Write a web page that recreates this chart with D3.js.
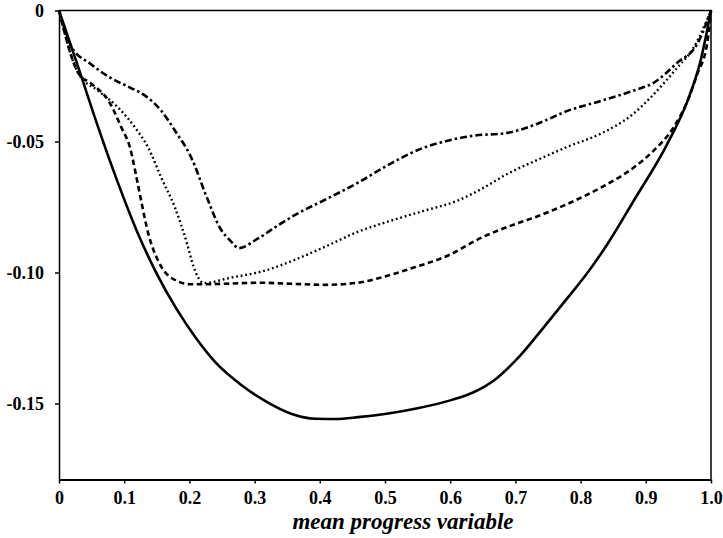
<!DOCTYPE html>
<html>
<head>
<meta charset="utf-8">
<script src="https://cdn.jsdelivr.net/npm/d3@7"></script>
<style>
  html, body { margin: 0; padding: 0; background: #fff; }
  svg { display: block; }
  .tick text { font-family: "Liberation Serif", "Times New Roman", serif; font-weight: bold; font-size: 18px; fill: #000; }
  .axis-title { font-family: "Liberation Serif", "Times New Roman", serif; font-weight: bold; font-style: italic; font-size: 23px; fill: #000; }
</style>
</head>
<body>
<svg id="chart" width="723" height="538"></svg>
<script>
// Axis ticks
const xTicks = [0, 0.1, 0.2, 0.3, 0.4, 0.5, 0.6, 0.7, 0.8, 0.9, 1.0];
const xTickLabels = ["0", "0.1", "0.2", "0.3", "0.4", "0.5", "0.6", "0.7", "0.8", "0.9", "1.0"];
const yTicks = [0, -0.05, -0.10, -0.15];
const yTickLabels = ["0", "-0.05", "-0.10", "-0.15"];
const xTitle = "mean progress variable";

// Curves: [mean progress variable, value]
const solidCurve = [
  [0, 0], [0.03, -0.022], [0.06, -0.0445], [0.09, -0.0655], [0.12, -0.0845],
  [0.15, -0.1005], [0.18, -0.1138], [0.21, -0.1250], [0.24, -0.1343],
  [0.28, -0.1430], [0.316, -0.149], [0.356, -0.1539], [0.393, -0.1558],
  [0.424, -0.1559], [0.459, -0.1552], [0.505, -0.1538], [0.55, -0.1518],
  [0.6, -0.1488], [0.635, -0.1458], [0.668, -0.1410], [0.708, -0.1315],
  [0.749, -0.1192], [0.78, -0.1097], [0.81, -0.1003], [0.841, -0.0892],
  [0.881, -0.0728], [0.933, -0.0509], [0.964, -0.0345], [0.984, -0.0192], [1, 0]
];
const dashDotCurve = [
  [0, 0], [0.0195, -0.014], [0.048, -0.0203], [0.079, -0.0257], [0.109, -0.0294],
  [0.132, -0.0325], [0.157, -0.0383], [0.178, -0.0459], [0.203, -0.0562],
  [0.227, -0.0715], [0.247, -0.083], [0.263, -0.0879], [0.276, -0.0907],
  [0.304, -0.0872], [0.339, -0.0815], [0.365, -0.0776], [0.405, -0.0726],
  [0.458, -0.0658], [0.508, -0.0585], [0.559, -0.0524], [0.596, -0.0497],
  [0.635, -0.0478], [0.688, -0.0467], [0.734, -0.0432], [0.78, -0.0383],
  [0.831, -0.0345], [0.881, -0.0306], [0.912, -0.0276], [0.948, -0.02],
  [0.979, -0.0127], [1, 0]
];
const dottedCurve = [
  [0, 0], [0.03, -0.0242], [0.06, -0.0306], [0.091, -0.0371], [0.117, -0.0448],
  [0.137, -0.0524], [0.157, -0.0639], [0.178, -0.0753], [0.197, -0.0895],
  [0.206, -0.0975], [0.222, -0.104], [0.263, -0.102], [0.314, -0.0994],
  [0.365, -0.0948], [0.405, -0.0905], [0.458, -0.0845], [0.508, -0.0803],
  [0.559, -0.0765], [0.611, -0.0726], [0.651, -0.0677], [0.688, -0.0623],
  [0.734, -0.057], [0.78, -0.052], [0.831, -0.047], [0.881, -0.0394],
  [0.907, -0.0333], [0.948, -0.0219], [0.973, -0.0143], [1, 0]
];
const dashedCurve = [
  [0, 0], [0.03, -0.024], [0.05, -0.028], [0.076, -0.0345], [0.096, -0.0448],
  [0.109, -0.0524], [0.119, -0.0639], [0.126, -0.0726], [0.137, -0.0852],
  [0.152, -0.0955], [0.172, -0.102], [0.203, -0.1045], [0.255, -0.1043],
  [0.306, -0.1039], [0.356, -0.1043], [0.409, -0.1047], [0.458, -0.1039],
  [0.493, -0.102], [0.543, -0.0982], [0.596, -0.0936], [0.647, -0.0868],
  [0.70, -0.0815], [0.728, -0.0791], [0.78, -0.0738], [0.831, -0.0676],
  [0.881, -0.06], [0.912, -0.0535], [0.942, -0.0448], [0.964, -0.0345],
  [0.979, -0.0242], [0.994, -0.0127], [1, 0]
];

const svg = d3.select("#chart");
const W = 723, H = 538;
const margin = { top: 10.5, right: 12, bottom: 58.5, left: 59 };
const innerW = W - margin.left - margin.right;
const innerH = H - margin.top - margin.bottom;

const x = d3.scaleLinear().domain([0, 1]).range([0, innerW]);
const y = d3.scaleLinear().domain([-0.179, 0]).range([innerH, 0]);

const g = svg.append("g").attr("transform", `translate(${margin.left},${margin.top})`);

// Frame (top and right edges)
g.append("path")
  .attr("d", `M0,0H${innerW}V${innerH}`)
  .attr("fill", "none").attr("stroke", "#000").attr("stroke-width", 1.5);

// Bottom axis
const xAxis = g.append("g")
  .attr("transform", `translate(0,${innerH})`)
  .call(d3.axisBottom(x).tickValues(xTicks).tickFormat((d, i) => xTickLabels[i]).tickSize(4).tickSizeOuter(0));
xAxis.select(".domain").attr("stroke-width", 2);
xAxis.selectAll(".tick line").attr("stroke-width", 1.5);
xAxis.selectAll(".tick text").attr("y", 0).attr("dy", 0).attr("transform", `translate(0,${503.5 - margin.top - innerH})`);

// Left axis
const yAxis = g.append("g")
  .call(d3.axisLeft(y).tickValues(yTicks).tickFormat((d, i) => yTickLabels[i]).tickSize(4).tickSizeOuter(0));
yAxis.select(".domain").attr("stroke-width", 1.5);
yAxis.selectAll(".tick line").attr("stroke-width", 1.5);
yAxis.selectAll(".tick text").attr("x", -15).attr("dy", "0.35em");

// Axis title
svg.append("text")
  .attr("class", "axis-title")
  .attr("x", 403).attr("y", 529)
  .attr("text-anchor", "middle")
  .text(xTitle);

// Curves
const line = d3.line()
  .x(d => x(d[0]))
  .y(d => y(d[1]))
  .curve(d3.curveMonotoneX);

const series = [
  { data: solidCurve, dash: null, width: 2.6 },
  { data: dashDotCurve, dash: "7,3,2.5,3", width: 2.6 },
  { data: dottedCurve, dash: "1.8,2.8", width: 2.4 },
  { data: dashedCurve, dash: "5.5,3.5", width: 2.6 }
];

g.selectAll("path.curve")
  .data(series)
  .join("path")
  .attr("class", "curve")
  .attr("d", d => line(d.data))
  .attr("fill", "none")
  .attr("stroke", "#000")
  .attr("stroke-width", d => d.width)
  .attr("stroke-dasharray", d => d.dash)
  .attr("stroke-linejoin", "round");
</script>
</body>
</html>
